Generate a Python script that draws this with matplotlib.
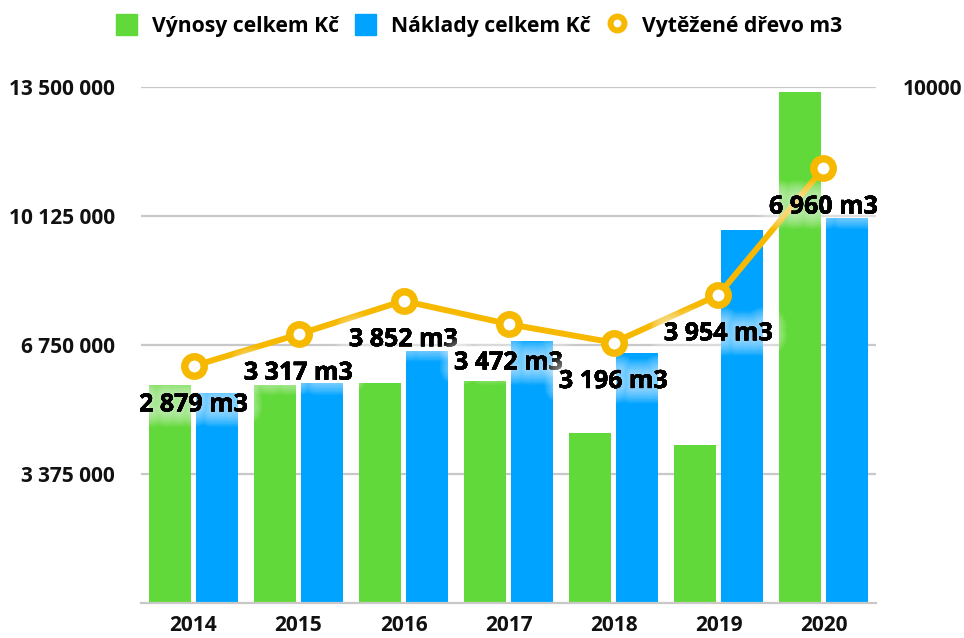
import matplotlib.pyplot as plt
import matplotlib.patheffects as pe
from matplotlib.patches import Patch
from matplotlib.lines import Line2D
from matplotlib.ticker import FixedLocator, NullLocator
import numpy as np

plt.rcParams['font.family'] = ['Open Sans', 'DejaVu Sans']
plt.rcParams['font.weight'] = 'bold'

years = ['2014', '2015', '2016', '2017', '2018', '2019', '2020']
vynosy = [5700000, 5700000, 5760000, 5810000, 4460000, 4130000, 13370000]
naklady = [5490000, 5750000, 6590000, 6860000, 6540000, 9760000, 10080000]
drevo = [2879, 3317, 3852, 3472, 3196, 3954, 6960]
drevo_labels = ['2 879 m3', '3 317 m3', '3 852 m3', '3 472 m3', '3 196 m3', '3 954 m3', '6 960 m3']
left_ticks = [3375000, 6750000, 10125000, 13500000]
left_tick_labels = ['3 375 000', '6 750 000', '10 125 000', '13 500 000']

green = '#62d93a'
blue = '#00a3ff'
gold = '#f6b900'
grid = '#c8c8c8'

fig = plt.figure(figsize=(9.64, 6.38), dpi=100)
ax = fig.add_axes([0.1463, 0.0549, 0.7624, 0.8087])

x = np.arange(len(years))
ax.bar(x - 0.22, vynosy, width=0.40, color=green, zorder=2)
ax.bar(x + 0.22, naklady, width=0.40, color=blue, zorder=2)

ax.set_xlim(-0.5, len(years) - 0.5)
ax.set_ylim(0, 13500000)
ax.set_yticks(left_ticks)
ax.set_yticklabels(left_tick_labels)
ax.set_xticks(x)
ax.set_xticklabels(years)
ax.yaxis.grid(True, color=grid, linewidth=1.6, zorder=0)
ax.set_axisbelow(True)
ax.tick_params(axis='y', length=0, pad=19, labelsize=15, labelcolor='#111111')
ax.tick_params(axis='x', length=0, pad=9, labelsize=15, labelcolor='#111111')
for s in ['top', 'left', 'right']:
    ax.spines[s].set_visible(False)
ax.spines['bottom'].set_color(grid)
ax.spines['bottom'].set_linewidth(1.6)

# wood volume on a log scale on the right
ax2 = ax.twinx()
ax2.set_yscale('log')
ax2.set_ylim(1000, 10000)
ax2.yaxis.set_major_locator(FixedLocator([10000]))
ax2.yaxis.set_minor_locator(NullLocator())
ax2.set_yticklabels(['10000'])
ax2.tick_params(axis='y', length=0, pad=19, labelsize=15, labelcolor='#111111')
for s in ax2.spines.values():
    s.set_visible(False)

ax2.plot(x, drevo, color=gold, linewidth=4.3, marker='o', markersize=14,
         markerfacecolor='white', markeredgecolor=gold, markeredgewidth=5.4,
         zorder=3)

# soft white halo behind the value labels
glow = [pe.withStroke(linewidth=w, foreground=(1, 1, 1, 0.07))
        for w in range(22, 1, -2)]
glow.append(pe.Normal())
for xi, v, lab in zip(x, drevo, drevo_labels):
    ax2.annotate(lab, (xi, v), xytext=(0, -28), textcoords='offset points',
                 ha='center', va='center', fontsize=18, fontweight='bold',
                 color='black', path_effects=glow, zorder=4)

handles = [Patch(color=green, label='Výnosy celkem Kč'),
           Patch(color=blue, label='Náklady celkem Kč'),
           Line2D([], [], linestyle='none', marker='o', markersize=10,
                  markerfacecolor='white', markeredgecolor=gold,
                  markeredgewidth=4.3, label='Vytěžené dřevo m3')]
fig.legend(handles=handles, loc='center', bbox_to_anchor=(0.497, 0.96), ncol=3,
           frameon=False, fontsize=15.2, handlelength=1.0, handleheight=1.1,
           handletextpad=0.7, columnspacing=0.75, borderaxespad=0)

fig.savefig('out.png', dpi=100)
